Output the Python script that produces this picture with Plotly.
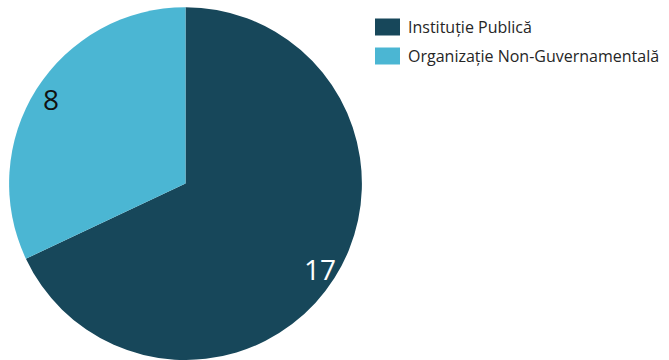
import math
import plotly.graph_objects as go

# Data
labels = ["Instituție Publică", "Organizație Non-Guvernamentală"]
values = [17, 8]
colors = ["#17475A", "#4BB6D3"]
label_font_colors = ["#FFFFFF", "#111111"]

W, H = 669, 360
dom_y = [0.0, 0.98]
pie_h = (dom_y[1] - dom_y[0]) * H
dom_x = [(185.5 - pie_h / 2) / W, (185.5 + pie_h / 2) / W]

fig = go.Figure(
    go.Pie(
        labels=labels,
        values=values,
        marker=dict(colors=colors, line=dict(width=0)),
        sort=False,
        direction="clockwise",
        rotation=0,
        textinfo="none",
        hoverinfo="label+value",
        showlegend=False,
        domain=dict(x=dom_x, y=dom_y),
    )
)

# Pie geometry in pixels (center from the top-left corner, radius)
cx = (dom_x[0] + dom_x[1]) / 2 * W
cy = H - (dom_y[0] + dom_y[1]) / 2 * H
r = min((dom_x[1] - dom_x[0]) * W, (dom_y[1] - dom_y[0]) * H) / 2

# Value labels near the outer edge of each slice, at its middle angle
total = sum(values)
start = 0.0
annotations = []
for v, fc in zip(values, label_font_colors):
    frac = v / total
    mid = (start + frac / 2) * 2 * math.pi  # clockwise from 12 o'clock
    start += frac
    px = cx + 0.9 * r * math.sin(mid)
    py = cy - 0.9 * r * math.cos(mid)
    annotations.append(
        dict(
            x=px / W, y=1 - py / H, xref="paper", yref="paper",
            text=str(v), showarrow=False,
            font=dict(family="Open Sans", size=28, color=fc),
            xanchor="center", yanchor="middle",
        )
    )

# Legend: colour swatches with their labels
shapes = []
row_y = [27, 56]
for lab, col, yc in zip(labels, colors, row_y):
    shapes.append(
        dict(
            type="rect", xref="paper", yref="paper",
            x0=375 / W, x1=400 / W,
            y0=1 - (yc + 8.5) / H, y1=1 - (yc - 8.5) / H,
            fillcolor=col, line=dict(width=0),
        )
    )
    annotations.append(
        dict(
            x=406 / W, y=1 - yc / H, xref="paper", yref="paper",
            text=lab, showarrow=False,
            font=dict(family="Open Sans", size=16, color="#262626"),
            xanchor="left", yanchor="middle",
        )
    )

fig.update_layout(
    width=W, height=H,
    margin=dict(l=0, r=0, t=0, b=0),
    paper_bgcolor="white",
    plot_bgcolor="white",
    annotations=annotations,
    shapes=shapes,
)

fig.write_html("out.html")
